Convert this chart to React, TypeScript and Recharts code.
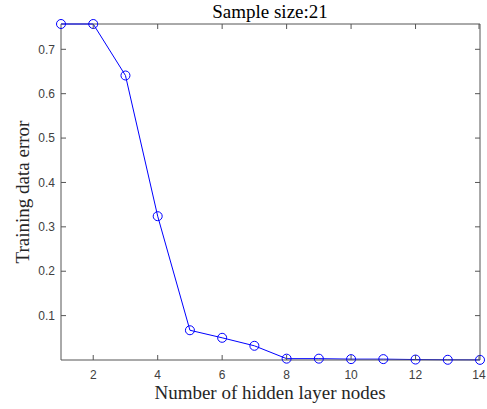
import { Line, LineChart, ReferenceLine, XAxis, YAxis } from "recharts"

const NODES = [1, 2, 3, 4, 5, 6, 7, 8, 9, 10, 11, 12, 13, 14]
const TRAIN_ERROR = [
  0.757, 0.757, 0.641, 0.324, 0.067, 0.05, 0.032, 0.003, 0.003, 0.002, 0.002, 0.001, 0.0005, 0.0003,
]
const X_TICKS = [2, 4, 6, 8, 10, 12, 14]
const Y_TICKS = [0.1, 0.2, 0.3, 0.4, 0.5, 0.6, 0.7]
const X_DOMAIN: [number, number] = [1, 14]
const Y_DOMAIN: [number, number] = [0, 0.757]

const TITLE = "Sample size:21"
const X_LABEL = "Number of hidden layer nodes"
const Y_LABEL = "Training data error"

const W = 487
const H = 409
const MARGIN = { top: 24, right: 7, left: 0, bottom: 19 }
const Y_AXIS_W = 61
const X_AXIS_H = 30
// plot box edges, from the layout above
const PLOT_TOP = MARGIN.top
const PLOT_BOTTOM = H - MARGIN.bottom - X_AXIS_H
const PLOT_LEFT = MARGIN.left + Y_AXIS_W
const PLOT_RIGHT = W - MARGIN.right
const TICK_LEN = 5

const AXIS = "#555555"
const BLUE = "#0000ff"
const SERIF = "'Liberation Serif', 'Times New Roman', serif"
const SANS = "'Liberation Sans', Arial, sans-serif"

const data = NODES.map((n, i) => ({ n, err: TRAIN_ERROR[i] }))

// matlab style: tick marks point inward, on both opposite sides of the box
function XTick({ x, y, payload }: any) {
  return (
    <g>
      <line x1={x} x2={x} y1={PLOT_BOTTOM} y2={PLOT_BOTTOM - TICK_LEN} stroke={AXIS} />
      <line x1={x} x2={x} y1={PLOT_TOP} y2={PLOT_TOP + TICK_LEN} stroke={AXIS} />
      <text x={x} y={y} dy="0.71em" textAnchor="middle" fontFamily={SANS} fontSize={12} fill="#404040">
        {payload.value}
      </text>
    </g>
  )
}

function YTick({ x, y, payload }: any) {
  return (
    <g>
      <line x1={PLOT_LEFT} x2={PLOT_LEFT + TICK_LEN} y1={y} y2={y} stroke={AXIS} />
      <line x1={PLOT_RIGHT} x2={PLOT_RIGHT - TICK_LEN} y1={y} y2={y} stroke={AXIS} />
      <text x={x} y={y} dy="0.355em" textAnchor="end" fontFamily={SANS} fontSize={12} fill="#404040">
        {payload.value}
      </text>
    </g>
  )
}

export default function App() {
  return (
    <div style={{ position: "absolute", left: 0, top: 0, width: W, height: H, background: "#fff" }}>
      <LineChart width={W} height={H} data={data} margin={MARGIN}>
        <XAxis
          dataKey="n"
          type="number"
          domain={X_DOMAIN}
          ticks={X_TICKS}
          height={X_AXIS_H}
          tickLine={false}
          tickSize={0}
          tickMargin={10}
          axisLine={{ stroke: AXIS }}
          tick={<XTick />}
        />
        <YAxis
          type="number"
          domain={Y_DOMAIN}
          ticks={Y_TICKS}
          width={Y_AXIS_W}
          tickLine={false}
          tickSize={0}
          tickMargin={6}
          axisLine={{ stroke: AXIS }}
          tick={<YTick />}
        />
        {/* top and right sides of the box */}
        <ReferenceLine y={Y_DOMAIN[1]} stroke={AXIS} />
        <ReferenceLine x={X_DOMAIN[1]} stroke={AXIS} />
        <Line
          type="linear"
          dataKey="err"
          stroke={BLUE}
          strokeWidth={1}
          dot={{ r: 4.5, stroke: BLUE, strokeWidth: 1, fill: "none" }}
          activeDot={false}
          isAnimationActive={false}
        />
      </LineChart>
      <svg
        width={W}
        height={H}
        style={{ position: "absolute", left: 0, top: 0, pointerEvents: "none" }}
      >
        <text x={270} y={18} textAnchor="middle" fontFamily={SERIF} fontSize={19} fill="#000">
          {TITLE}
        </text>
        <text x={270} y={399} textAnchor="middle" fontFamily={SERIF} fontSize={19} fill="#262626">
          {X_LABEL}
        </text>
        <text
          x={29}
          y={192}
          textAnchor="middle"
          fontFamily={SERIF}
          fontSize={19}
          fill="#262626"
          transform="rotate(-90, 29, 192)"
        >
          {Y_LABEL}
        </text>
      </svg>
    </div>
  )
}
